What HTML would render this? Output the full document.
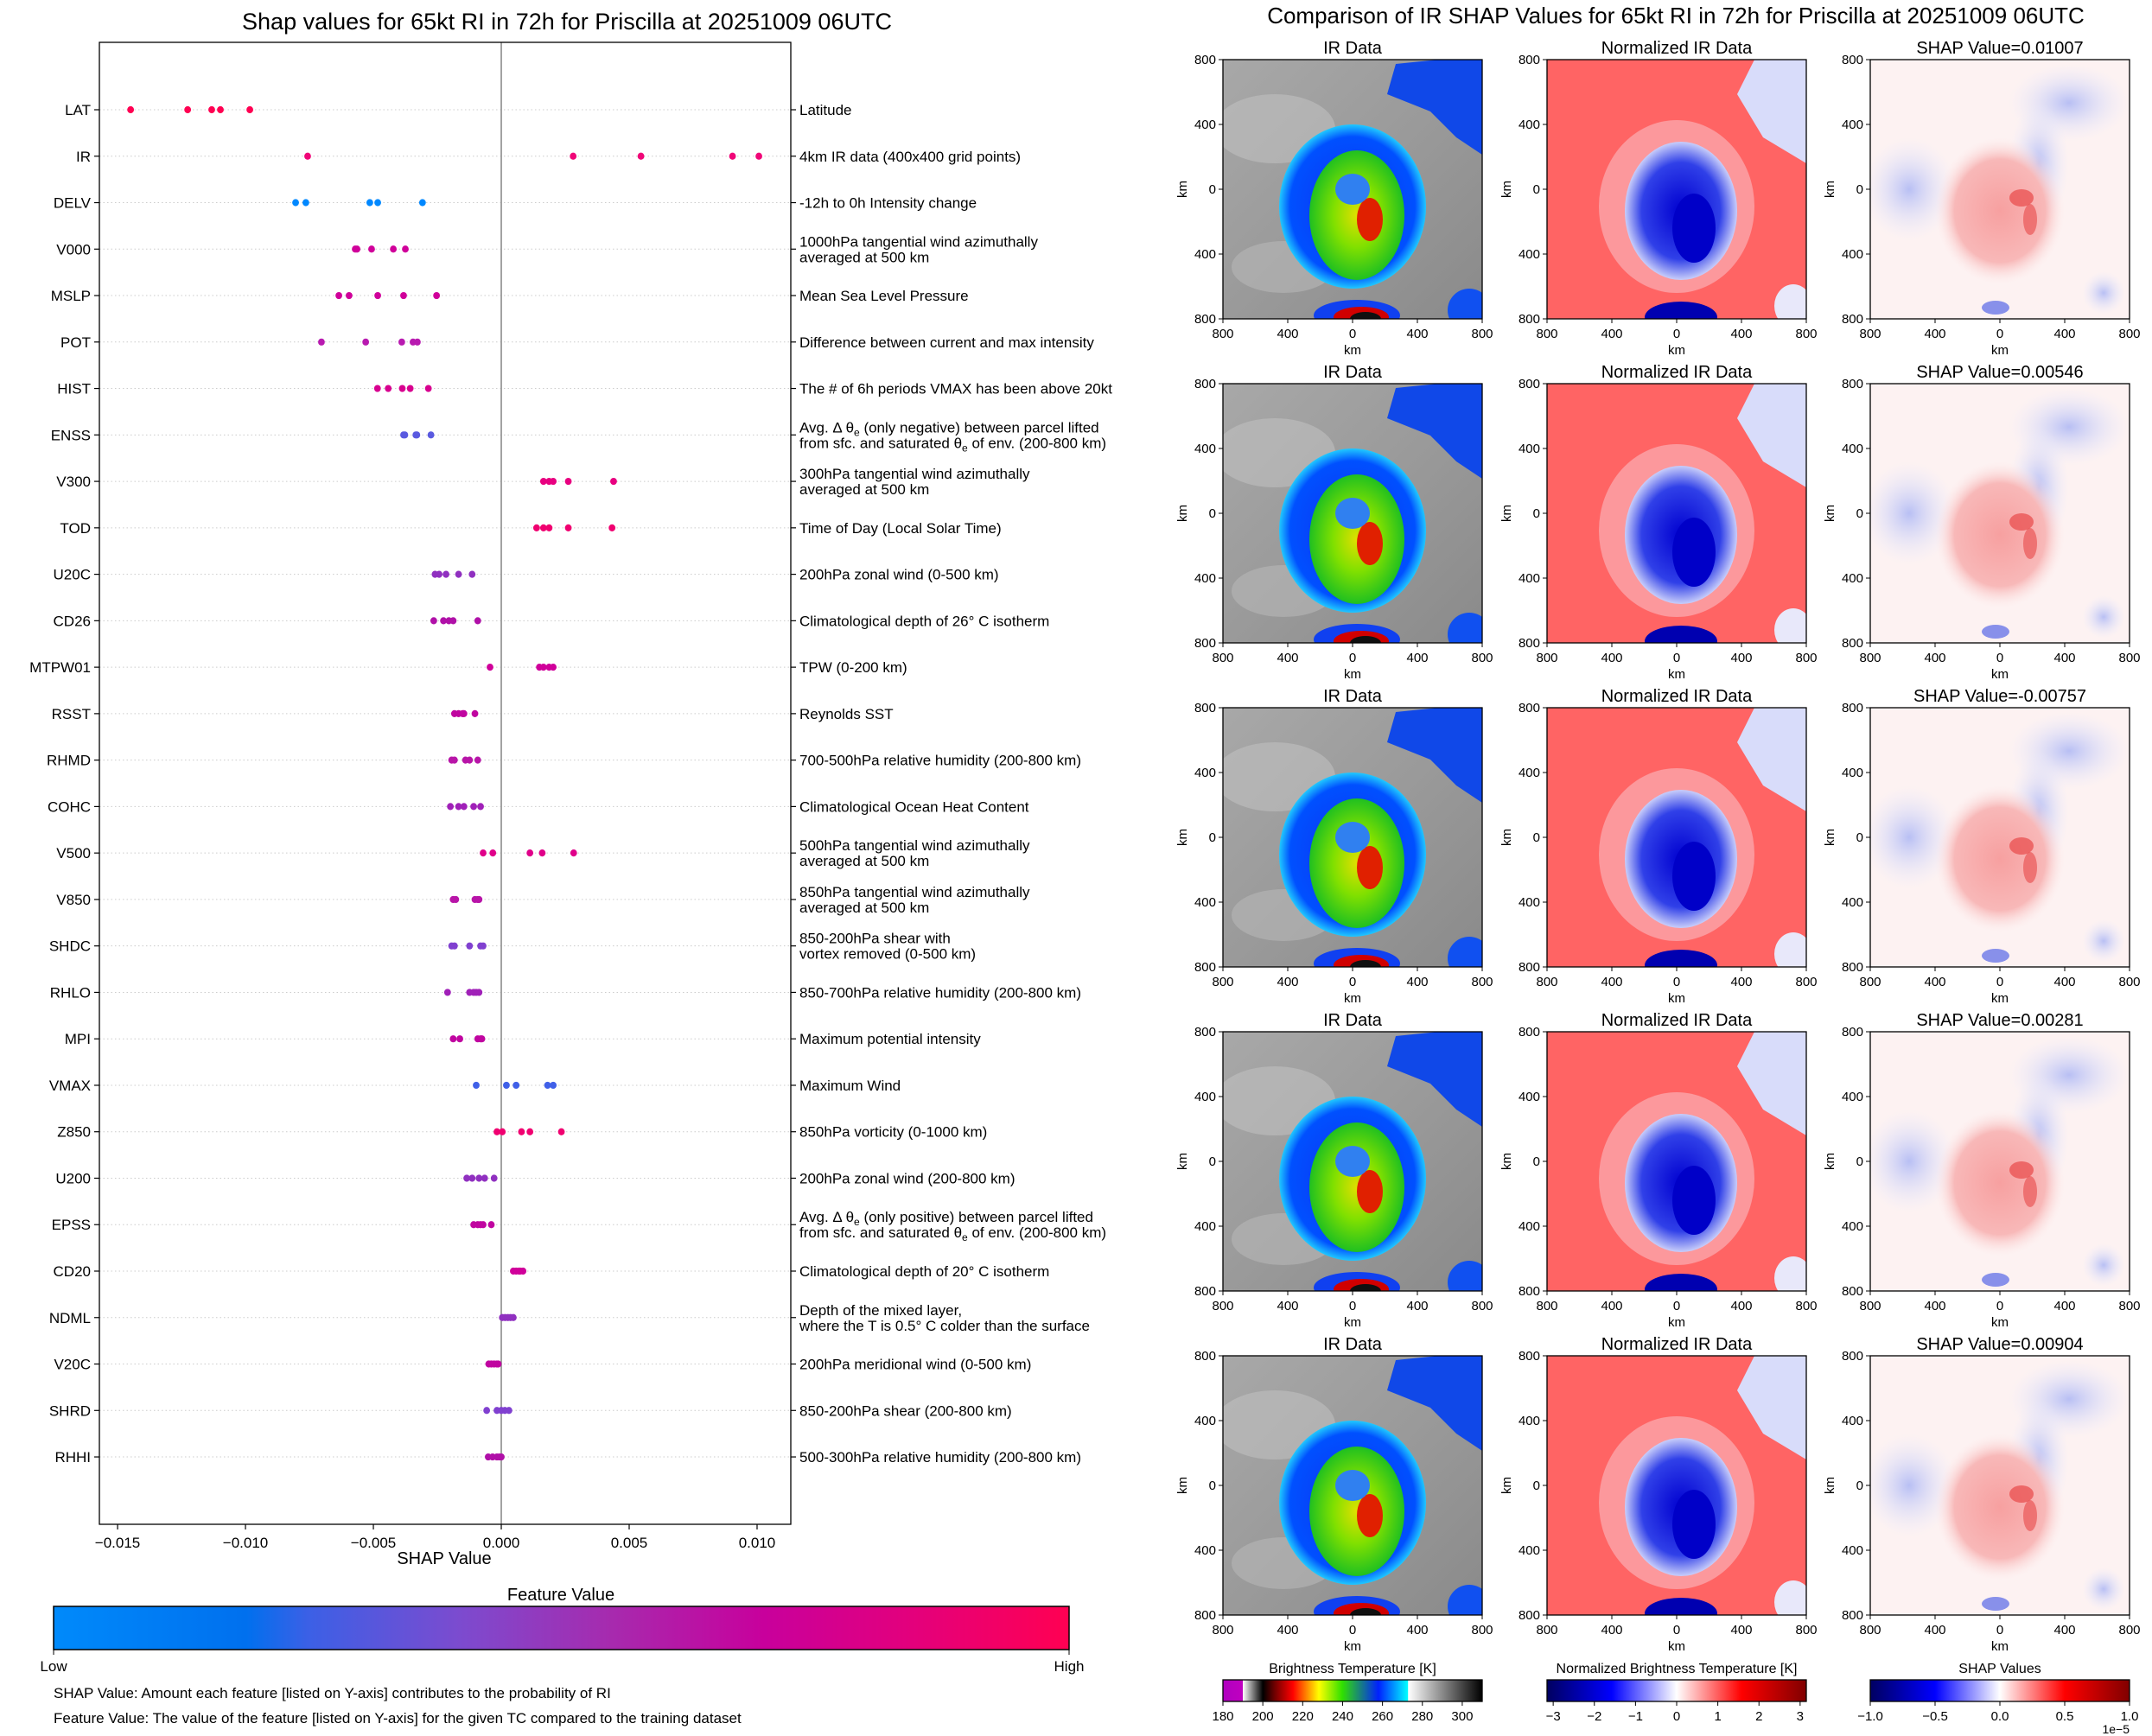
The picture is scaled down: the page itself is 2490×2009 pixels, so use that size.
<!DOCTYPE html>
<html><head><meta charset="utf-8"><style>
html,body{margin:0;padding:0;background:#fff}
svg{display:block;font-family:"Liberation Sans","DejaVu Sans",sans-serif}
</style></head><body>
<svg id="root" width="2490" height="2009" viewBox="0 0 2490 2009" xmlns="http://www.w3.org/2000/svg">
<defs>
  <clipPath id="panelClip"><rect x="0" y="0" width="300" height="300"/></clipPath>
  <linearGradient id="fvGrad" x1="0" x2="1" y1="0" y2="0">
    <stop offset="0" stop-color="#008afb"/><stop offset="0.19" stop-color="#0070ee"/><stop offset="0.25" stop-color="#3b60e6"/>
    <stop offset="0.4" stop-color="#7c4bcf"/><stop offset="0.55" stop-color="#a72aae"/><stop offset="0.7" stop-color="#c8009c"/>
    <stop offset="0.85" stop-color="#e4007b"/><stop offset="1" stop-color="#ff0052"/>
  </linearGradient>
  <linearGradient id="irGrad" x1="0" x2="1" y1="0" y2="0">
    <stop offset="0" stop-color="#b000c0"/><stop offset="0.076" stop-color="#c000c0"/>
    <stop offset="0.077" stop-color="#ffffff"/><stop offset="0.154" stop-color="#000000"/>
    <stop offset="0.2" stop-color="#700000"/><stop offset="0.27" stop-color="#ff0000"/>
    <stop offset="0.37" stop-color="#ffff00"/><stop offset="0.46" stop-color="#30e000"/>
    <stop offset="0.6" stop-color="#0020ff"/><stop offset="0.713" stop-color="#00ffff"/>
    <stop offset="0.715" stop-color="#ffffff"/><stop offset="1" stop-color="#000000"/>
  </linearGradient>
  <linearGradient id="bwrGrad" x1="0" x2="1" y1="0" y2="0">
    <stop offset="0" stop-color="#000060"/><stop offset="0.25" stop-color="#0000ff"/><stop offset="0.5" stop-color="#ffffff"/>
    <stop offset="0.75" stop-color="#ff0000"/><stop offset="1" stop-color="#800000"/>
  </linearGradient>
  <linearGradient id="irBg" x1="0" x2="1" y1="0" y2="1">
    <stop offset="0" stop-color="#a8a8a8"/><stop offset="0.5" stop-color="#9a9a9a"/><stop offset="1" stop-color="#8a8a8a"/>
  </linearGradient>
  <radialGradient id="stormBlue" cx="0.5" cy="0.5" r="0.5">
    <stop offset="0" stop-color="#1030f0"/><stop offset="0.85" stop-color="#0050ff"/><stop offset="1" stop-color="#20c8ff"/>
  </radialGradient>
  <radialGradient id="stormGreen" cx="0.5" cy="0.5" r="0.5">
    <stop offset="0" stop-color="#e0e000"/><stop offset="0.5" stop-color="#80e000"/><stop offset="1" stop-color="#20c020"/>
  </radialGradient>
  <radialGradient id="normBlue" cx="0.5" cy="0.5" r="0.5">
    <stop offset="0" stop-color="#0000d0"/><stop offset="0.7" stop-color="#3040e8"/><stop offset="1" stop-color="#c8cdfa"/>
  </radialGradient>
  <radialGradient id="shapRed" cx="0.5" cy="0.5" r="0.5">
    <stop offset="0" stop-color="#f7a0a0"/><stop offset="0.7" stop-color="#f8b8b8"/><stop offset="1" stop-color="#fde8e8" stop-opacity="0"/>
  </radialGradient>
  <radialGradient id="shapBlue" cx="0.5" cy="0.5" r="0.5">
    <stop offset="0" stop-color="#b8bff4"/><stop offset="1" stop-color="#e8eafc" stop-opacity="0"/>
  </radialGradient>
  <g id="irImg" clip-path="url(#panelClip)">
    <rect x="0" y="0" width="300" height="300" fill="url(#irBg)"/>
    <ellipse cx="60" cy="80" rx="70" ry="40" fill="#c0c0c0" opacity="0.6"/>
    <ellipse cx="70" cy="240" rx="60" ry="30" fill="#b8b8b8" opacity="0.6"/>
    <path d="M250 0 L300 0 L300 110 L270 90 L240 60 L190 40 L200 5 Z" fill="#1048e8"/>
    <ellipse cx="150" cy="170" rx="85" ry="95" fill="url(#stormBlue)"/>
    <ellipse cx="155" cy="180" rx="55" ry="75" fill="url(#stormGreen)"/>
    <ellipse cx="170" cy="185" rx="15" ry="25" fill="#e02000"/>
    <ellipse cx="150" cy="150" rx="20" ry="18" fill="#3080f0"/>
    <ellipse cx="155" cy="296" rx="50" ry="18" fill="#1040f0"/>
    <ellipse cx="160" cy="298" rx="32" ry="12" fill="#d00000"/>
    <ellipse cx="165" cy="300" rx="18" ry="8" fill="#101010"/>
    <ellipse cx="285" cy="290" rx="25" ry="25" fill="#1050f0"/>
  </g>
  <g id="normImg" clip-path="url(#panelClip)">
    <rect x="0" y="0" width="300" height="300" fill="#ff6464"/>
    <path d="M240 0 L300 0 L300 120 L250 90 L220 40 Z" fill="#d8dcfa"/>
    <ellipse cx="150" cy="170" rx="90" ry="100" fill="#f8d8e0" opacity="0.45"/>
    <ellipse cx="155" cy="175" rx="65" ry="80" fill="url(#normBlue)"/>
    <ellipse cx="170" cy="195" rx="25" ry="40" fill="#0000c8"/>
    <ellipse cx="155" cy="298" rx="42" ry="18" fill="#0000b0"/>
    <ellipse cx="285" cy="285" rx="22" ry="25" fill="#e8e8fa"/>
  </g>
  <g id="shapImg" clip-path="url(#panelClip)">
    <rect x="0" y="0" width="300" height="300" fill="#fdf2f2"/>
    <ellipse cx="230" cy="50" rx="70" ry="45" fill="url(#shapBlue)"/>
    <ellipse cx="195" cy="120" rx="35" ry="70" fill="url(#shapBlue)"/>
    <ellipse cx="45" cy="150" rx="55" ry="60" fill="url(#shapBlue)"/>
    <ellipse cx="150" cy="175" rx="75" ry="85" fill="url(#shapRed)"/>
    <ellipse cx="175" cy="160" rx="14" ry="10" fill="#e84848" opacity="0.7"/>
    <ellipse cx="185" cy="185" rx="8" ry="18" fill="#e84848" opacity="0.6"/>
    <ellipse cx="145" cy="287" rx="16" ry="8" fill="#8890ea"/>
    <ellipse cx="270" cy="270" rx="25" ry="25" fill="url(#shapBlue)"/>
  </g>
</defs>
<rect x="0" y="0" width="2490" height="2009" fill="#fff"/>
<g id="leftChart"></g>
<g id="rightPanels"></g>
</svg>
<script>
// ---------- data ----------
const features = ["LAT","IR","DELV","V000","MSLP","POT","HIST","ENSS","V300","TOD","U20C","CD26","MTPW01","RSST","RHMD","COHC","V500","V850","SHDC","RHLO","MPI","VMAX","Z850","U200","EPSS","CD20","NDML","V20C","SHRD","RHHI"];
const descriptions = [
 ["Latitude"],["4km IR data (400x400 grid points)"],["-12h to 0h Intensity change"],
 ["1000hPa tangential wind azimuthally","averaged at 500 km"],["Mean Sea Level Pressure"],
 ["Difference between current and max intensity"],["The # of 6h periods VMAX has been above 20kt"],
 ["Avg. Δ θe (only negative) between parcel lifted","from sfc. and saturated θe of env. (200-800 km)"],
 ["300hPa tangential wind azimuthally","averaged at 500 km"],["Time of Day (Local Solar Time)"],
 ["200hPa zonal wind (0-500 km)"],["Climatological depth of 26° C isotherm"],["TPW (0-200 km)"],["Reynolds SST"],
 ["700-500hPa relative humidity (200-800 km)"],["Climatological Ocean Heat Content"],
 ["500hPa tangential wind azimuthally","averaged at 500 km"],["850hPa tangential wind azimuthally","averaged at 500 km"],
 ["850-200hPa shear with","vortex removed (0-500 km)"],["850-700hPa relative humidity (200-800 km)"],
 ["Maximum potential intensity"],["Maximum Wind"],["850hPa vorticity (0-1000 km)"],["200hPa zonal wind (200-800 km)"],
 ["Avg. Δ θe (only positive) between parcel lifted","from sfc. and saturated θe of env. (200-800 km)"],
 ["Climatological depth of 20° C isotherm"],["Depth of the mixed layer,","where the T is 0.5° C colder than the surface"],
 ["200hPa meridional wind (0-500 km)"],["850-200hPa shear (200-800 km)"],["500-300hPa relative humidity (200-800 km)"]];
const shapValues = [
 [-0.01449,-0.01226,-0.01132,-0.01098,-0.00983],
 [-0.00757,0.00281,0.00546,0.00904,0.01007],
 [-0.00804,-0.00764,-0.00514,-0.00483,-0.00308],
 [-0.00571,-0.00564,-0.00507,-0.00422,-0.00375],
 [-0.00635,-0.00595,-0.00483,-0.00382,-0.00253],
 [-0.00703,-0.00530,-0.00389,-0.00345,-0.00328],
 [-0.00484,-0.00442,-0.00387,-0.00356,-0.00285],
 [-0.00382,-0.00377,-0.00334,-0.00330,-0.00275],
 [0.00165,0.00187,0.00203,0.00262,0.00439],
 [0.00138,0.00165,0.00187,0.00262,0.00433],
 [-0.00259,-0.00243,-0.00216,-0.00167,-0.00114],
 [-0.00264,-0.00226,-0.00205,-0.00188,-0.00092],
 [-0.00044,0.00149,0.00165,0.00187,0.00203],
 [-0.00183,-0.00167,-0.00151,-0.00146,-0.00103],
 [-0.00194,-0.00183,-0.00140,-0.00124,-0.00092],
 [-0.00199,-0.00167,-0.00146,-0.00108,-0.00081],
 [-0.00071,-0.00033,0.00112,0.00160,0.00283],
 [-0.00188,-0.00178,-0.00103,-0.00092,-0.00087],
 [-0.00194,-0.00183,-0.00124,-0.00081,-0.00071],
 [-0.00210,-0.00124,-0.00108,-0.00098,-0.00087],
 [-0.00188,-0.00162,-0.00092,-0.00081,-0.00076],
 [-0.00098,0.00020,0.00058,0.00181,0.00203],
 [-0.00017,0.00004,0.00079,0.00112,0.00235],
 [-0.00135,-0.00114,-0.00087,-0.00065,-0.00028],
 [-0.00108,-0.00092,-0.00081,-0.00071,-0.00039],
 [0.00047,0.00058,0.00069,0.00074,0.00085],
 [0.00004,0.00015,0.00026,0.00036,0.00047],
 [-0.00049,-0.00039,-0.00028,-0.00017,-0.00012],
 [-0.00057,-0.00017,0.00000,0.00014,0.00030],
 [-0.00051,-0.00034,-0.00017,-0.00007,0.00000]];
const featureColors = ["#ff0052","#f00678","#0088ff","#d0009a","#d0009a","#b81ab0","#d8008f","#5a5ae0","#e80080","#f00070",
 "#9030c0","#b010a8","#d0009a","#c005a0","#b815a8","#a020b8","#e0008a","#b815a8","#8040d0","#a020b8",
 "#c005a0","#4060e8","#f00070","#9030c0","#c005a0","#d0009a","#9030c0","#c005a0","#8040d0","#b010a8"];
const xTicks = [-0.015,-0.010,-0.005,0.000,0.005,0.010];
const xTickLabels = ["\u22120.015","\u22120.010","\u22120.005","0.000","0.005","0.010"];
const panelShap = ["0.01007","0.00546","-0.00757","0.00281","0.00904"];
const irTicks = [180,200,220,240,260,280,300];
const normTicks = [-3,-2,-1,0,1,2,3];
const shapCbTicks = ["\u22121.0","\u22120.5","0.0","0.5","1.0"];

const NS = "http://www.w3.org/2000/svg";
function mk(parent, tag, attrs, text){
  const e = document.createElementNS(NS, tag);
  for (const k in attrs) e.setAttribute(k, attrs[k]);
  if (text !== undefined) e.textContent = text;
  parent.appendChild(e); return e;
}
const L = document.getElementById("leftChart");
const R = document.getElementById("rightPanels");

// ---------- left chart ----------
const ax = {left:115, right:915, top:49, bottom:1764};
const xMin = -0.015711, xMax = 0.011318;
function xs(v){ return ax.left + (v - xMin) / (xMax - xMin) * (ax.right - ax.left); }
function ys(i){ return 127 + i * 53.76; }

let t = mk(L, "text", {x:656, y:34, "text-anchor":"middle", "font-size":27, fill:"#000"}, "Shap values for 65kt RI in 72h for Priscilla at 20251009 06UTC");



features.forEach((f, i) => {
  const y = ys(i);
  const g = mk(L, "line", {x1:ax.left, x2:ax.right, y1:y, y2:y, stroke:"#cccccc", "stroke-width":1, "stroke-dasharray":"1.5 3"});
  
  
  mk(L, "line", {x1:ax.left-6, x2:ax.left, y1:y, y2:y, stroke:"#000", "stroke-width":1.2});
  mk(L, "line", {x1:ax.right, x2:ax.right+6, y1:y, y2:y, stroke:"#000", "stroke-width":1.2});
  const lab = mk(L, "text", {x:105, y:y+6, "text-anchor":"end", "font-size":17, fill:"#000"}, f);
  
  
  const desc = descriptions[i];
  const dt = mk(L, "text", {x:925, y:y+6 - (desc.length-1)*9, "font-size":17, fill:"#000"});
  
  
  desc.forEach((line, k) => {
    const ts = mk(dt, "tspan", {x:925, dy: k===0 ? 0 : 18});
    if (line.indexOf("θe") >= 0) {
      const parts = line.split("θe");
      ts.appendChild(document.createTextNode(parts[0] + "θ"));
      mk(ts, "tspan", {"font-size":12, dy:4}, "e");
      mk(ts, "tspan", {dy:-4}, parts[1]);
    } else ts.textContent = line;
  });
});

const zl = mk(L, "line", {x1:xs(0), x2:xs(0), y1:ax.top, y2:ax.bottom, stroke:"#999999", "stroke-width":1.8});



shapValues.forEach((vals, i) => {
  vals.forEach(v => {
    const c = mk(L, "ellipse", {cx:xs(v), cy:ys(i), rx:3.9, ry:4.1, fill:featureColors[i]});
    
    
  });
});

const fr = mk(L, "rect", {x:ax.left, y:ax.top, width:ax.right-ax.left, height:ax.bottom-ax.top, fill:"none", stroke:"#000", "stroke-width":1.3});



xTicks.forEach((v, k) => {
  mk(L, "line", {x1:xs(v), x2:xs(v), y1:ax.bottom, y2:ax.bottom+6, stroke:"#000", "stroke-width":1.2});
  const tl = mk(L, "text", {x:xs(v), y:ax.bottom+27, "text-anchor":"middle", "font-size":17, fill:"#000"}, xTickLabels[k]);
  
  
});
t = mk(L, "text", {x:514, y:1810, "text-anchor":"middle", "font-size":20, fill:"#000"}, "SHAP Value");



t = mk(L, "text", {x:649, y:1852, "text-anchor":"middle", "font-size":20, fill:"#000"}, "Feature Value");


t = mk(L, "rect", {x:62, y:1859, width:1175, height:50, fill:"url(#fvGrad)", stroke:"#000", "stroke-width":1.5});


mk(L, "line", {x1:62, x2:62, y1:1909, y2:1915, stroke:"#000"});
mk(L, "line", {x1:1237, x2:1237, y1:1909, y2:1915, stroke:"#000"});
t = mk(L, "text", {x:62, y:1934, "text-anchor":"middle", "font-size":17}, "Low");


t = mk(L, "text", {x:1237, y:1934, "text-anchor":"middle", "font-size":17}, "High");


t = mk(L, "text", {x:62, y:1965, "font-size":17}, "SHAP Value: Amount each feature [listed on Y-axis] contributes to the probability of RI");


t = mk(L, "text", {x:62, y:1994, "font-size":17}, "Feature Value: The value of the feature [listed on Y-axis] for the given TC compared to the training dataset");



// ---------- right panels ----------
t = mk(R, "text", {x:1939, y:27, "text-anchor":"middle", "font-size":26, fill:"#000"}, "Comparison of IR SHAP Values for 65kt RI in 72h for Priscilla at 20251009 06UTC");



const colX = [1415, 1790, 2164];
const rowY = [69, 444, 819, 1194, 1569];
const imgs = ["#irImg", "#normImg", "#shapImg"];
const kmLabels = ["800","400","0","400","800"];
rowY.forEach((py, r) => {
  colX.forEach((px, c) => {
    const u = mk(R, "use", {href:imgs[c], x:px, y:py});
    
    
    mk(R, "rect", {x:px, y:py, width:300, height:300, fill:"none", stroke:"#000", "stroke-width":1.3});
    const title = c===0 ? "IR Data" : c===1 ? "Normalized IR Data" : "SHAP Value=" + panelShap[r];
    const tt = mk(R, "text", {x:px+150, y:py-7, "text-anchor":"middle", "font-size":20}, title);
    
    
    kmLabels.forEach((lb, k) => {
      mk(R, "line", {x1:px-5, x2:px, y1:py+k*75, y2:py+k*75, stroke:"#000"});
      mk(R, "text", {x:px-8, y:py+k*75+5, "text-anchor":"end", "font-size":15}, lb);
      mk(R, "line", {x1:px+k*75, x2:px+k*75, y1:py+300, y2:py+305, stroke:"#000"});
      mk(R, "text", {x:px+k*75, y:py+322, "text-anchor":"middle", "font-size":15}, lb);
    });
    mk(R, "text", {x:px+150, y:py+341, "text-anchor":"middle", "font-size":15}, "km");
    mk(R, "text", {x:px-42, y:py+150, "text-anchor":"middle", "font-size":15, transform:"rotate(-90 "+(px-42)+" "+(py+150)+")"}, "km");
  });
});

const cbY = 1944, cbH = 25;
const cbTitles = ["Brightness Temperature [K]", "Normalized Brightness Temperature [K]", "SHAP Values"];
const cbFills = ["url(#irGrad)", "url(#bwrGrad)", "url(#bwrGrad)"];
colX.forEach((px, c) => {
  const cb = mk(R, "rect", {x:px, y:cbY, width:300, height:cbH, fill:cbFills[c], stroke:"#000", "stroke-width":1.3});
  
  
  const ct = mk(R, "text", {x:px+150, y:cbY-8, "text-anchor":"middle", "font-size":16}, cbTitles[c]);
  
  
});
function cbTick(px, frac, label){
  const x = px + frac*300;
  mk(R, "line", {x1:x, x2:x, y1:cbY+cbH, y2:cbY+cbH+5, stroke:"#000"});
  mk(R, "text", {x:x, y:cbY+cbH+22, "text-anchor":"middle", "font-size":15}, label);
}
irTicks.forEach(v => cbTick(colX[0], (v-180)/130, String(v)));
normTicks.forEach(v => cbTick(colX[1], (v+3.15)/6.3, v<0 ? "\u2212"+(-v) : String(v)));
shapCbTicks.forEach((lb, k) => cbTick(colX[2], k/4, lb));
t = mk(R, "text", {x:2464, y:2006, "text-anchor":"end", "font-size":14}, "1e\u22125");


</script>
</body></html>
